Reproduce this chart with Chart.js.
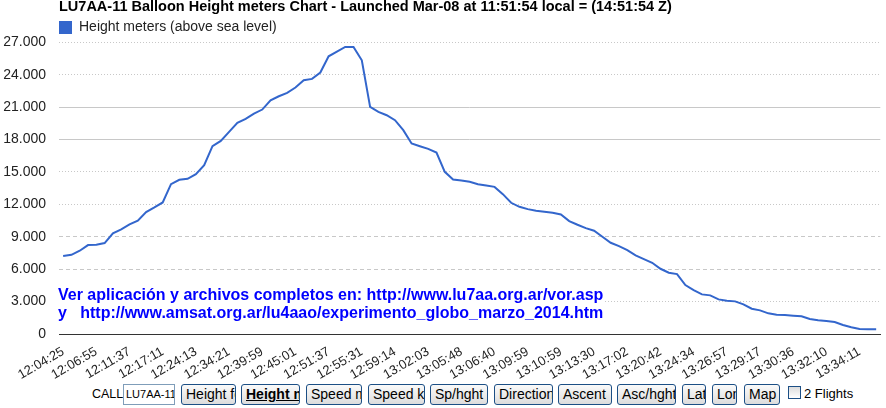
<!DOCTYPE html>
<html>
<head>
<meta charset="utf-8">
<script src="https://cdn.jsdelivr.net/npm/chart.js@4.4.1/dist/chart.umd.min.js"></script>
<style>
  body { margin: 0; background: #fff; font-family: Arial, "Liberation Sans", sans-serif; }
  #wrap { position: relative; width: 886px; height: 408px; overflow: hidden; }
  #chart { position: absolute; left: 0; top: 0; }
  #note {
    position: absolute; left: 58px; top: 286px; background: #fff; color: #00f;
    font-weight: bold; font-size: 16px; line-height: 18px; white-space: nowrap;
  }
  .lbl { position: absolute; font-size: 13px; color: #000; }
  .inp {
    position: absolute; top: 384px; height: 21px; box-sizing: border-box;
    border: 1px solid #7f9db9; font-size: 11px; line-height: 19px; padding-left: 2px;
    white-space: nowrap; overflow: hidden;
  }
  .btn {
    position: absolute; top: 384px; height: 21px; box-sizing: border-box;
    border: 1px solid #1c4f85; border-radius: 3px;
    background: linear-gradient(#fafafa, #ececec 50%, #dcdcdc);
    font-size: 14px; line-height: 19px; padding-left: 4px; color: #000;
    white-space: nowrap; overflow: hidden;
  }
  .btn.on { font-weight: bold; text-decoration: underline; }
  .chk {
    position: absolute; left: 788px; top: 386px; width: 13px; height: 13px; box-sizing: border-box;
    border: 1px solid #1c4f85; background: linear-gradient(#dcdcdc, #fff);
  }
</style>
</head>
<body>
<div id="wrap">
  <canvas id="chart" width="886" height="382"></canvas>
  <div id="note">Ver aplicación y archivos completos en: http://www.lu7aa.org.ar/vor.asp<br>y&nbsp;&nbsp; http://www.amsat.org.ar/lu4aao/experimento_globo_marzo_2014.htm</div>
  <div id="controls"></div>
</div>
<script>
// height samples (m) along the flight
const heights = [
  7213, 7333, 7706, 8230, 8260, 8415, 9311, 9681, 10143, 10482,
  11281, 11713, 12175, 13870, 14269, 14362, 14795, 15627, 17384, 17877,
  18709, 19541, 19911, 20405, 20775, 21638, 22008, 22316, 22810, 23487,
  23611, 24199, 25707, 26140, 26572, 26572, 25337, 21022, 20560, 20251,
  19789, 18864, 17630, 17384, 17137, 16798, 15010, 14300, 14208, 14085,
  13870, 13747, 13618, 12946, 12144, 11775, 11559, 11405, 11313, 11220,
  11066, 10449, 10111, 9802, 9557, 9002, 8444, 8137, 7767, 7277,
  6935, 6593, 6038, 5670, 5548, 4531, 4069, 3668, 3575, 3206,
  3082, 3021, 2744, 2343, 2189, 1911, 1787, 1757, 1695, 1634,
  1387, 1263, 1202, 1110, 832, 617, 462, 432, 432
];

// times shown on the x axis (every 4th sample)
const tickLabels = [
  "12:04:25", "12:06:55", "12:11:37", "12:17:11", "12:24:13", "12:34:21", "12:39:59",
  "12:45:01", "12:51:37", "12:55:31", "12:59:14", "13:02:03", "13:05:48", "13:06:40",
  "13:09:59", "13:10:59", "13:13:30", "13:17:02", "13:20:42", "13:24:34", "13:26:57",
  "13:29:17", "13:30:36", "13:32:10", "13:34:11"
];
const labelStep = 4;

const buttons = [
  ["Height feet", 181, 55], ["Height meters", 241, 59, true], ["Speed m/s", 306, 56],
  ["Speed km/h", 368, 57], ["Sp/hght", 430, 58], ["Direction", 494, 59],
  ["Ascent", 558, 54], ["Asc/hght", 617, 59], ["Lat", 682, 24], ["Lon", 712, 25], ["Map", 744, 36]
];

const labels = heights.map((h, i) => (i % labelStep === 0 ? tickLabels[i / labelStep] || "" : ""));
const font = "Arial, 'Liberation Sans', sans-serif";

const fmt = v => String(v).replace(/\B(?=(\d{3})+(?!\d))/g, ".");

const gridDash = v => {
  if (v === 21000 || v === 18000 || v === 0) return [];
  if (v === 9000 || v === 6000) return [4, 3];
  return [1, 2];
};

new Chart(document.getElementById("chart"), {
  type: "line",
  data: {
    labels: labels,
    datasets: [{
      label: "Height meters (above sea level)",
      data: heights,
      borderColor: "#3366cc",
      backgroundColor: "#3366cc",
      borderWidth: 2,
      pointRadius: 0,
      tension: 0
    }]
  },
  options: {
    responsive: false,
    animation: false,
    layout: { padding: { left: 0, right: 2, top: 0, bottom: 0 } },
    plugins: {
      tooltip: { enabled: false },
      title: {
        display: true,
        text: "LU7AA-11 Balloon Height meters Chart - Launched Mar-08 at 11:51:54 local = (14:51:54 Z)",
        align: "start",
        fullSize: false,
        color: "#000",
        font: { family: font, size: 14.5, weight: "bold", lineHeight: 1 },
        padding: { top: 0, bottom: 6 }
      },
      legend: {
        align: "start",
        fullSize: false,
        maxHeight: 21.8,
        labels: {
          boxWidth: 13,
          boxHeight: 13,
          color: "#222",
          font: { family: font, size: 14 },
          padding: 0,
          generateLabels: chart =>
            Chart.defaults.plugins.legend.labels.generateLabels(chart).map(l => ({ ...l, lineWidth: 0 }))
        }
      }
    },
    scales: {
      x: {
        offset: true,
        grid: { display: false },
        border: { display: true, color: "#333", width: 1 },
        ticks: {
          autoSkip: false,
          maxRotation: 30,
          minRotation: 30,
          color: "#222",
          font: { family: font, size: 13 },
          padding: 2,
          callback: (v, i) => labels[i]
        },
        afterFit: s => { s.height = 48; }
      },
      y: {
        min: 0,
        max: 27000,
        border: { display: false, dash: ctx => gridDash(ctx.tick ? ctx.tick.value : -1) },
        grid: {
          drawTicks: false,
          color: ctx => (ctx.tick && ctx.tick.value === 0 ? "#333" : "#c8c8c8")
        },
        ticks: {
          stepSize: 3000,
          color: "#222",
          font: { family: font, size: 14 },
          padding: 13,
          callback: v => fmt(v)
        },
        afterFit: s => { s.width = 59; }
      }
    }
  }
});

// the control bar under the chart
const bar = document.getElementById("controls");
bar.innerHTML =
  '<div class="lbl" style="left:92px;top:387px;font-size:12.5px">CALL</div>' +
  '<div class="inp" style="left:123px;width:52px">LU7AA-11</div>' +
  buttons.map(b => '<div class="btn' + (b[3] ? ' on' : '') + '" style="left:' + b[1] + 'px;width:' + b[2] + 'px">' + b[0] + '</div>').join("") +
  '<div class="chk"></div><div class="lbl" style="left:804px;top:386px">2 Flights</div>';
</script>
</body>
</html>
